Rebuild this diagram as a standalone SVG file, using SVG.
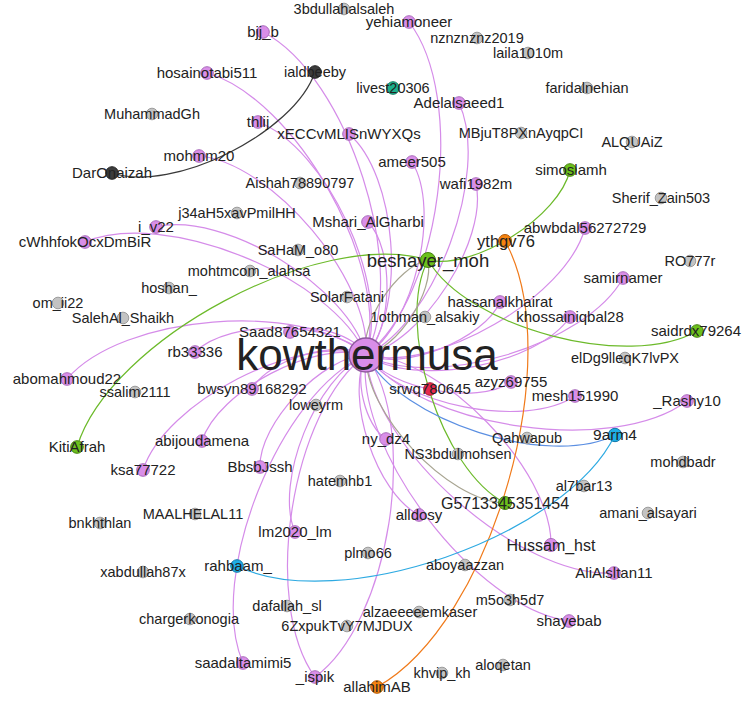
<svg xmlns="http://www.w3.org/2000/svg" width="742" height="702" viewBox="0 0 742 702">
<style>
.e{fill:none;stroke-width:1.2}
.ep{stroke:#d58ce9}
.eg{stroke:#6cba2a}
.et{stroke:#a8a592}
.eo{stroke:#f07a1a}
.eb{stroke:#2eaae2}
.em{stroke:#5b8fe2}
.ed{stroke:#3a3a3a}
circle{stroke-width:1}
.p circle{fill:#d98ee8;stroke:#a96bbb}
.g circle{fill:#c3c3c3;stroke:#9c9c9c}
.d circle{fill:#3c3c3c;stroke:#222}
.t circle{fill:#1db08c;stroke:#137a60}
.gr circle{fill:#6cc01c;stroke:#468012}
.o circle{fill:#f5820f;stroke:#b05a08}
.b circle{fill:#1eaee6;stroke:#1278a8}
.r circle{fill:#e8284e;stroke:#a01a34}
text{font-family:"Liberation Sans",Arial,sans-serif;fill:#222;text-anchor:middle;font-size:14.5px}
.p text{font-size:15px}
</style>
<rect width="742" height="702" fill="#fff"/>
<g id="edges">
<path class="e ep" d="M263 32C348.2 76 410 269.8 366 355"/>
<path class="e ep" d="M207 73C295.2 97.6 390.6 266.8 366 355"/>
<path class="e ep" d="M258 122C326.2 147 391 286.8 366 355"/>
<path class="e ep" d="M199 156C272.2 162.4 372.4 281.8 366 355"/>
<path class="e ep" d="M156 227C223.6 210.6 349.6 287.4 366 355"/>
<path class="e ep" d="M85 242C163.8 208.4 332.4 276.2 366 355"/>
<path class="e ep" d="M409 22C467 97.2 441.2 297 366 355"/>
<path class="e ep" d="M349 134C396.6 174.8 406.8 307.4 366 355"/>
<path class="e ep" d="M412 162C441.4 209.8 413.8 325.6 366 355"/>
<path class="e ep" d="M459 103C490.8 172 435 323.2 366 355"/>
<path class="e ep" d="M476 184C488.2 240.2 422.2 342.8 366 355"/>
<path class="e ep" d="M368 222C394.2 249 393 328.8 366 355"/>
<path class="e ep" d="M290 332C309.8 321.4 355.4 335.2 366 355"/>
<path class="e ep" d="M500 302C483.8 339.4 403.4 371.2 366 355"/>
<path class="e ep" d="M585 228C566.6 297.2 435.2 373.4 366 355"/>
<path class="e ep" d="M623 278C587 344.8 432.8 391 366 355"/>
<path class="e ep" d="M570 317C536.8 365.4 414.4 388.2 366 355"/>
<path class="e ep" d="M511 382C476.6 405.6 389.6 389.4 366 355"/>
<path class="e ep" d="M575 396C525 429.6 399.6 405 366 355"/>
<path class="e ep" d="M687 401C613.6 456 421 428.4 366 355"/>
<path class="e ep" d="M195 352C229.8 318.4 332.4 320.2 366 355"/>
<path class="e ep" d="M67 379C122 314.4 301.4 300 366 355"/>
<path class="e ep" d="M252 389C268 359.4 336.4 339 366 355"/>
<path class="e ep" d="M202 441C217.6 391 316 339.4 366 355"/>
<path class="e ep" d="M143 470C164.6 402.4 298.4 333.4 366 355"/>
<path class="e ep" d="M260 467C258.8 423.4 322.4 356.2 366 355"/>
<path class="e ep" d="M386 439C365.2 426.2 353.2 375.8 366 355"/>
<path class="e ep" d="M419 515C376.4 493.6 344.6 397.6 366 355"/>
<path class="e ep" d="M295 532C273.8 482.4 316.4 376.2 366 355"/>
<path class="e ep" d="M243 663C206 576.8 279.8 392 366 355"/>
<path class="e ep" d="M315 677C260.8 602.4 291.4 409.2 366 355"/>
<path class="e ep" d="M366 355C420.2 429.6 389.6 622.8 315 677"/>
<path class="e ep" d="M366 355C441 356 552 470 551 545"/>
<path class="e ep" d="M614 573C520.8 579 372 448.2 366 355"/>
<path class="e ep" d="M569 621C475.2 608.4 353.4 448.8 366 355"/>
<path class="e ed" d="M315 72C294.6 132.8 172.8 193.4 112 173"/>
<path class="e eg" d="M77 447C109.8 339.4 320.4 227.2 428 260"/>
<path class="e eg" d="M570 170C559.6 216.4 474.4 270.4 428 260"/>
<path class="e eg" d="M697 331C629 370.6 467.6 328 428 260"/>
<path class="e eg" d="M505 503C441 469.8 394.8 324 428 260"/>
<path class="e et" d="M505 503C447.6 501.2 364.2 412.4 366 355"/>
<path class="e et" d="M428 260C434.6 291.4 397.4 348.4 366 355"/>
<path class="e et" d="M366 355C359.4 323.6 396.6 266.6 428 260"/>
<path class="e eo" d="M505 241C568.6 355.8 491.8 623.4 377 687"/>
<path class="e em" d="M615 435C549.2 468.8 399.8 420.8 366 355"/>
<path class="e eb" d="M615 435C565.6 536.8 338.8 615.4 237 566"/>
</g>
<g id="nodes">
<g id="n-hosainotabi511" class="p"><circle cx="207" cy="73" r="6.3"/><text x="207" y="78.2">hosainotabi511</text></g>
<g id="n-mohmm20" class="p"><circle cx="199" cy="156" r="6.3"/><text x="199" y="161.2">mohmm20</text></g>
<g id="n-thlij" class="p"><circle cx="258" cy="122" r="6.3"/><text x="258" y="127.2">thlij</text></g>
<g id="n-bjj_b" class="p"><circle cx="263" cy="32" r="6.3"/><text x="263" y="37.2">bjj_b</text></g>
<g id="n-yehiamoneer" class="p"><circle cx="409" cy="22" r="6.3"/><text x="409" y="27.2">yehiamoneer</text></g>
<g id="n-Adelalsaeed1" class="p"><circle cx="459" cy="103" r="6.3"/><text x="459" y="108.2">Adelalsaeed1</text></g>
<g id="n-xECCvMLISnWYXQs" class="p"><circle cx="349" cy="134" r="6.3"/><text x="349" y="139.2">xECCvMLISnWYXQs</text></g>
<g id="n-ameer505" class="p"><circle cx="412" cy="162" r="6.3"/><text x="412" y="167.2">ameer505</text></g>
<g id="n-wafi1982m" class="p"><circle cx="476" cy="184" r="6.3"/><text x="476" y="189.2">wafi1982m</text></g>
<g id="n-Mshari_AlGharbi" class="p"><circle cx="368" cy="222" r="6.3"/><text x="368" y="227.2">Mshari_AlGharbi</text></g>
<g id="n-i_v22" class="p"><circle cx="156" cy="227" r="6.3"/><text x="156" y="232.2">i_v22</text></g>
<g id="n-cWhhfokOcxDmBiR" class="p"><circle cx="85" cy="242" r="6.3"/><text x="85" y="247.2">cWhhfokOcxDmBiR</text></g>
<g id="n-Saad87654321" class="p"><circle cx="290" cy="332" r="6.3"/><text x="290" y="337.2">Saad87654321</text></g>
<g id="n-hassanalkhairat" class="p"><circle cx="500" cy="302" r="6.3"/><text x="500" y="307.2">hassanalkhairat</text></g>
<g id="n-abwbdal56272729" class="p"><circle cx="585" cy="228" r="6.3"/><text x="585" y="233.2">abwbdal56272729</text></g>
<g id="n-samirnamer" class="p"><circle cx="623" cy="278" r="6.3"/><text x="623" y="283.2">samirnamer</text></g>
<g id="n-khossainiqbal28" class="p"><circle cx="570" cy="317" r="6.3"/><text x="570" y="322.2">khossainiqbal28</text></g>
<g id="n-azyz69755" class="p"><circle cx="511" cy="382" r="6.3"/><text x="511" y="387.2">azyz69755</text></g>
<g id="n-mesh151990" class="p"><circle cx="575" cy="396" r="6.3"/><text x="575" y="401.2">mesh151990</text></g>
<g id="n-_Rashy10" class="p"><circle cx="687" cy="401" r="6.3"/><text x="687" y="406.2">_Rashy10</text></g>
<g id="n-rb33336" class="p"><circle cx="195" cy="352" r="6.3"/><text x="195" y="357.2">rb33336</text></g>
<g id="n-abomahmoud22" class="p"><circle cx="67" cy="379" r="6.3"/><text x="67" y="384.2">abomahmoud22</text></g>
<g id="n-bwsyn89168292" class="p"><circle cx="252" cy="389" r="6.3"/><text x="252" y="394.2">bwsyn89168292</text></g>
<g id="n-abijoudamena" class="p"><circle cx="202" cy="441" r="6.3"/><text x="202" y="446.2">abijoudamena</text></g>
<g id="n-ksa77722" class="p"><circle cx="143" cy="470" r="6.3"/><text x="143" y="475.2">ksa77722</text></g>
<g id="n-BbsbJssh" class="p"><circle cx="260" cy="467" r="6.3"/><text x="260" y="472.2">BbsbJssh</text></g>
<g id="n-ny_dz4" class="p"><circle cx="386" cy="439" r="6.3"/><text x="386" y="444.2">ny_dz4</text></g>
<g id="n-alldosy" class="p"><circle cx="419" cy="515" r="6.3"/><text x="419" y="520.2">alldosy</text></g>
<g id="n-lm2020_lm" class="p"><circle cx="295" cy="532" r="6.3"/><text x="295" y="537.2">lm2020_lm</text></g>
<g id="n-saadaltamimi5" class="p"><circle cx="243" cy="663" r="6.3"/><text x="243" y="668.2">saadaltamimi5</text></g>
<g id="n-_ispik" class="p"><circle cx="315" cy="677" r="6.3"/><text x="315" y="682.2">_ispik</text></g>
<g id="n-Hussam_hst" class="p"><circle cx="551" cy="545" r="6.5"/><text x="551" y="550.6" style="font-size:16px">Hussam_hst</text></g>
<g id="n-AliAlsltan11" class="p"><circle cx="614" cy="573" r="6.3"/><text x="614" y="578.2">AliAlsltan11</text></g>
<g id="n-shayebab" class="p"><circle cx="569" cy="621" r="6.3"/><text x="569" y="626.2">shayebab</text></g>
<g id="n-MuhammadGh" class="g"><circle cx="152" cy="114" r="5.8"/><text x="152" y="119">MuhammadGh</text></g>
<g id="n-3bdullahalsaleh" class="g"><circle cx="344" cy="9" r="5.8"/><text x="344" y="14">3bdullahalsaleh</text></g>
<g id="n-nznznznz2019" class="g"><circle cx="477" cy="38" r="5.8"/><text x="477" y="43">nznznznz2019</text></g>
<g id="n-laila1010m" class="g"><circle cx="528" cy="53" r="5.8"/><text x="528" y="58">laila1010m</text></g>
<g id="n-faridalnehian" class="g"><circle cx="587" cy="88" r="5.8"/><text x="587" y="93">faridalnehian</text></g>
<g id="n-MBjuT8PXnAyqpCI" class="g"><circle cx="521" cy="133" r="5.8"/><text x="521" y="138">MBjuT8PXnAyqpCI</text></g>
<g id="n-ALQUAiZ" class="g"><circle cx="632" cy="142" r="5.8"/><text x="632" y="147">ALQUAiZ</text></g>
<g id="n-Aishah78890797" class="g"><circle cx="300" cy="183" r="5.8"/><text x="300" y="188">Aishah78890797</text></g>
<g id="n-j34aH5xavPmilHH" class="g"><circle cx="237" cy="213" r="5.8"/><text x="237" y="218">j34aH5xavPmilHH</text></g>
<g id="n-SaHaM_o80" class="g"><circle cx="298" cy="250" r="5.8"/><text x="298" y="255">SaHaM_o80</text></g>
<g id="n-mohtmcom_alahsa" class="g"><circle cx="250" cy="271" r="5.8"/><text x="249" y="276">mohtmcom_alahsa</text></g>
<g id="n-hoshan_" class="g"><circle cx="169" cy="288" r="5.8"/><text x="169" y="293">hoshan_</text></g>
<g id="n-om_ii22" class="g"><circle cx="58" cy="303" r="5.8"/><text x="58" y="308">om_ii22</text></g>
<g id="n-SalehAl_Shaikh" class="g"><circle cx="123" cy="318" r="5.8"/><text x="123" y="323">SalehAl_Shaikh</text></g>
<g id="n-SolarFatani" class="g"><circle cx="347" cy="297" r="5.8"/><text x="347" y="302">SolarFatani</text></g>
<g id="n-1othman_alsakiy" class="g"><circle cx="425" cy="317" r="5.8"/><text x="425" y="322">1othman_alsakiy</text></g>
<g id="n-Sherif_Zain503" class="g"><circle cx="661" cy="198" r="5.8"/><text x="661" y="203">Sherif_Zain503</text></g>
<g id="n-RO777r" class="g"><circle cx="690" cy="261" r="5.8"/><text x="690" y="266">RO777r</text></g>
<g id="n-elDg9lleqK7lvPX" class="g"><circle cx="625" cy="358" r="5.8"/><text x="625" y="363">elDg9lleqK7lvPX</text></g>
<g id="n-loweyrm" class="g"><circle cx="316" cy="405" r="5.8"/><text x="316" y="410">loweyrm</text></g>
<g id="n-ssalim2111" class="g"><circle cx="135" cy="392" r="5.8"/><text x="135" y="397">ssalim2111</text></g>
<g id="n-NS3bdulmohsen" class="g"><circle cx="458" cy="454" r="5.8"/><text x="458" y="459">NS3bdulmohsen</text></g>
<g id="n-Qahwapub" class="g"><circle cx="527" cy="438" r="5.8"/><text x="527" y="443">Qahwapub</text></g>
<g id="n-hatemhb1" class="g"><circle cx="340" cy="481" r="5.8"/><text x="340" y="486">hatemhb1</text></g>
<g id="n-mohdbadr" class="g"><circle cx="683" cy="462" r="5.8"/><text x="683" y="467">mohdbadr</text></g>
<g id="n-al7bar13" class="g"><circle cx="584" cy="486" r="5.8"/><text x="584" y="491">al7bar13</text></g>
<g id="n-amani_alsayari" class="g"><circle cx="648" cy="513" r="5.8"/><text x="648" y="518">amani_alsayari</text></g>
<g id="n-MAALHELAL11" class="g"><circle cx="195" cy="514" r="5.8"/><text x="193" y="519">MAALHELAL11</text></g>
<g id="n-bnkhthlan" class="g"><circle cx="100" cy="523" r="5.8"/><text x="100" y="528">bnkhthlan</text></g>
<g id="n-xabdullah87x" class="g"><circle cx="143" cy="572" r="5.8"/><text x="143" y="577">xabdullah87x</text></g>
<g id="n-chargerkonogia" class="g"><circle cx="190" cy="619" r="5.8"/><text x="189" y="624">chargerkonogia</text></g>
<g id="n-plmo66" class="g"><circle cx="368" cy="553" r="5.8"/><text x="368" y="558">plmo66</text></g>
<g id="n-aboyaazzan" class="g"><circle cx="465" cy="565" r="5.8"/><text x="465" y="570">aboyaazzan</text></g>
<g id="n-dafallah_sl" class="g"><circle cx="287" cy="606" r="5.8"/><text x="287" y="611">dafallah_sl</text></g>
<g id="n-alzaeeeeemkaser" class="g"><circle cx="419" cy="612" r="5.8"/><text x="420" y="617">alzaeeeeemkaser</text></g>
<g id="n-6ZxpukTvY7MJDUX" class="g"><circle cx="347" cy="626" r="5.8"/><text x="347" y="631">6ZxpukTvY7MJDUX</text></g>
<g id="n-m5o3h5d7" class="g"><circle cx="510" cy="600" r="5.8"/><text x="510" y="605">m5o3h5d7</text></g>
<g id="n-khvip_kh" class="g"><circle cx="442" cy="673" r="5.8"/><text x="442" y="678">khvip_kh</text></g>
<g id="n-aloqetan" class="g"><circle cx="503" cy="665" r="5.8"/><text x="503" y="670">aloqetan</text></g>
<g id="n-ialdbeeby" class="d"><circle cx="315" cy="72" r="6.3"/><text x="315" y="77">ialdbeeby</text></g>
<g id="n-DarOnaizah" class="d"><circle cx="112" cy="173" r="6.3"/><text x="112" y="178.2" style="font-size:15px">DarOnaizah</text></g>
<g id="n-livest20306" class="t"><circle cx="393" cy="88" r="6.3"/><text x="393" y="93">livest20306</text></g>
<g id="n-simoslamh" class="gr"><circle cx="570" cy="170" r="6.3"/><text x="571" y="175.2" style="font-size:15px">simoslamh</text></g>
<g id="n-KitiAfrah" class="gr"><circle cx="77" cy="447" r="6.3"/><text x="77" y="452.2" style="font-size:15px">KitiAfrah</text></g>
<g id="n-saidrdx79264" class="gr"><circle cx="697" cy="331" r="6.3"/><text x="696" y="336.2" style="font-size:15px">saidrdx79264</text></g>
<g id="n-G5713345351454" class="gr"><circle cx="505" cy="503" r="6.5"/><text x="505" y="508.6" style="font-size:16px">G5713345351454</text></g>
<g id="n-ythgv76" class="o"><circle cx="505" cy="241" r="6.5"/><text x="506" y="246.8" style="font-size:16.5px">ythgv76</text></g>
<g id="n-allahimAB" class="o"><circle cx="377" cy="687" r="6.3"/><text x="377" y="692.2" style="font-size:15px">allahimAB</text></g>
<g id="n-9arm4" class="b"><circle cx="615" cy="435" r="6.7"/><text x="615" y="440.4" style="font-size:15.5px">9arm4</text></g>
<g id="n-rahbaam_" class="b"><circle cx="237" cy="566" r="6.3"/><text x="238" y="571.2" style="font-size:15px">rahbaam_</text></g>
<g id="n-srwq780645" class="r"><circle cx="430" cy="389" r="6.3"/><text x="430" y="394.2" style="font-size:15px">srwq780645</text></g>
<g id="n-beshayer_moh" class="gr"><circle cx="428" cy="260" r="7.5"/><text x="428" y="266.5" style="font-size:18.5px">beshayer_moh</text></g>
<g id="n-kowthermusa" class="p"><circle cx="366" cy="355" r="17" style="stroke:#8f5a9e;stroke-width:1.5"/><text x="367" y="370.4" style="font-size:44px">kowthermusa</text></g>
</g>
</svg>
